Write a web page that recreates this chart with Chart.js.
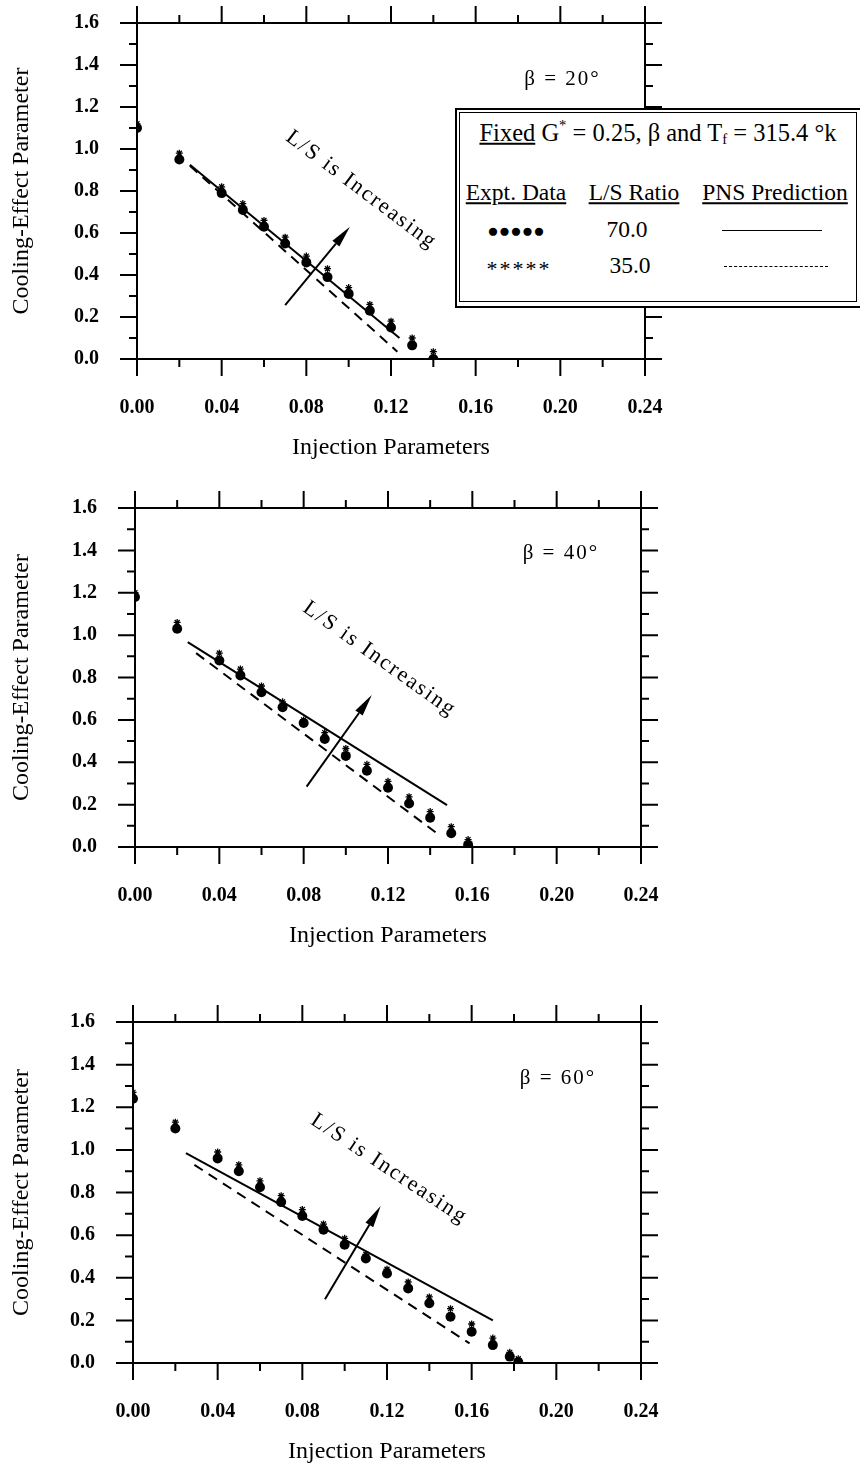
<!DOCTYPE html>
<html>
<head>
<meta charset="utf-8">
<script src="https://cdn.jsdelivr.net/npm/chart.js@4.4.1/dist/chart.umd.min.js"></script>
<style>
  body { margin: 0; background: #fff; width: 860px; height: 1467px; position: relative; overflow: hidden; font-family: "Liberation Serif", serif; color: #000; }
  canvas { position: absolute; left: 0; }
  #legendBox { position: absolute; left: 455px; top: 108px; width: 410px; height: 196px; border: 2px solid #000; background: #fff; }
  #legendBox .inner { position: absolute; left: 2px; top: 2px; width: 396px; height: 188px; border: 1.5px solid #000; }
  .t { position: absolute; transform: translate(-50%, -50%); white-space: nowrap; font-size: 23.5px; line-height: 1; }
  .t sup { font-size: 60%; vertical-align: 0.7em; line-height: 0; }
  .t sub { font-size: 60%; vertical-align: -0.2em; line-height: 0; }
  .solid { position: absolute; height: 0; border-top: 1.5px solid #000; }
  .dashed { position: absolute; height: 0; border-top: 1.5px dashed #000; }
</style>
</head>
<body>
<canvas id="p1"></canvas>
<canvas id="p2"></canvas>
<canvas id="p3"></canvas>

<div id="legendBox"><div class="inner"></div></div>
<div class="t" style="left:658px;top:133px;font-size:24.5px"><u>Fixed</u> G<sup>*</sup> = 0.25, β and T<sub>f</sub> = 315.4 °k</div>
<div class="t" style="left:516px;top:193px"><u>Expt. Data</u></div>
<div class="t" style="left:634px;top:193px"><u>L/S Ratio</u></div>
<div class="t" style="left:775px;top:193px"><u>PNS Prediction</u></div>
<div class="t" id="sym0" style="left:516px;top:230px;font-size:19px;letter-spacing:0px"></div>
<div class="t" id="ratio0" style="left:627px;top:230px"></div>
<div class="solid" style="left:722px;top:230px;width:100px"></div>
<div class="t" id="sym1" style="left:519px;top:269px;font-size:22px;letter-spacing:2px"></div>
<div class="t" id="ratio1" style="left:630px;top:266px"></div>
<div class="dashed" style="left:724px;top:266px;width:104px"></div>

<script>
// axis ticks
const xTickValues = [0, 0.04, 0.08, 0.12, 0.16, 0.20, 0.24];
const xTickLabels = ['0.00', '0.04', '0.08', '0.12', '0.16', '0.20', '0.24'];
const yTickValues = [0, 0.2, 0.4, 0.6, 0.8, 1.0, 1.2, 1.4, 1.6];
const yTickLabels = ['0.0', '0.2', '0.4', '0.6', '0.8', '1.0', '1.2', '1.4', '1.6'];

// legend
const lsRatios = ['70.0', '35.0'];
const exptSymbols = ['●●●●●', '*****'];

// beta = 20
const p1X = [0, 0.02, 0.04, 0.05, 0.06, 0.07, 0.08, 0.09, 0.10, 0.11, 0.12, 0.13, 0.14];
const p1Dots = [1.10, 0.95, 0.79, 0.71, 0.63, 0.55, 0.46, 0.39, 0.31, 0.23, 0.15, 0.065, 0.0];
const p1Stars = [1.12, 0.98, 0.82, 0.74, 0.66, 0.58, 0.49, 0.43, 0.34, 0.26, 0.18, 0.10, 0.035];
const p1SolidX = [0.025, 0.124];
const p1SolidY = [0.925, 0.10];
const p1DashX = [0.025, 0.123];
const p1DashY = [0.92, 0.035];

// beta = 40
const p2X = [0, 0.02, 0.04, 0.05, 0.06, 0.07, 0.08, 0.09, 0.10, 0.11, 0.12, 0.13, 0.14, 0.15, 0.158];
const p2Dots = [1.18, 1.03, 0.88, 0.81, 0.73, 0.66, 0.585, 0.51, 0.43, 0.36, 0.28, 0.205, 0.138, 0.065, 0.01];
const p2Stars = [1.20, 1.06, 0.915, 0.84, 0.76, 0.685, 0.60, 0.54, 0.465, 0.39, 0.31, 0.237, 0.167, 0.096, 0.035];
const p2SolidX = [0.025, 0.148];
const p2SolidY = [0.967, 0.198];
const p2DashX = [0.029, 0.143];
const p2DashY = [0.915, 0.066];

// beta = 60
const p3X = [0, 0.02, 0.04, 0.05, 0.06, 0.07, 0.08, 0.09, 0.10, 0.11, 0.12, 0.13, 0.14, 0.15, 0.16, 0.17, 0.178, 0.182];
const p3Dots = [1.24, 1.10, 0.96, 0.90, 0.825, 0.755, 0.69, 0.625, 0.555, 0.49, 0.42, 0.35, 0.28, 0.217, 0.147, 0.084, 0.03, 0.005];
const p3Stars = [1.27, 1.13, 0.99, 0.93, 0.855, 0.785, 0.72, 0.652, 0.585, 0.51, 0.44, 0.38, 0.31, 0.255, 0.183, 0.117, 0.05, 0.02];
const p3SolidX = [0.025, 0.17];
const p3SolidY = [0.985, 0.20];
const p3DashX = [0.029, 0.159];
const p3DashY = [0.93, 0.092];

const betaLabels = ['β = 20°', 'β = 40°', 'β = 60°'];
const trendLabel = 'L/S is Increasing';

document.getElementById('sym0').textContent = exptSymbols[0];
document.getElementById('sym1').textContent = exptSymbols[1];
document.getElementById('ratio0').textContent = lsRatios[0];
document.getElementById('ratio1').textContent = lsRatios[1];

const serif = '"Liberation Serif", "Times New Roman", serif';

function pts(xs, ys) {
    return xs.map((v, i) => ({ x: v, y: ys[i] }));
}

// box with outward ticks on all four sides, plus the notes
const framePlugin = {
    id: 'frame',
    beforeDatasetsDraw(chart) {
        const { ctx, chartArea: a, scales: { x, y } } = chart;
        ctx.save();
        ctx.strokeStyle = '#000';
        ctx.lineWidth = 2;
        ctx.strokeRect(a.left, a.top, a.right - a.left, a.bottom - a.top);
        ctx.beginPath();
        xTickValues.forEach((v, i) => {
            const px = x.getPixelForValue(v);
            ctx.moveTo(px, a.top); ctx.lineTo(px, a.top - 17);
            ctx.moveTo(px, a.bottom); ctx.lineTo(px, a.bottom + 17);
            if (i < xTickValues.length - 1) {
                const m = x.getPixelForValue((v + xTickValues[i + 1]) / 2);
                ctx.moveTo(m, a.top); ctx.lineTo(m, a.top - 8);
                ctx.moveTo(m, a.bottom); ctx.lineTo(m, a.bottom + 8);
            }
        });
        yTickValues.forEach((v, i) => {
            const py = y.getPixelForValue(v);
            ctx.moveTo(a.left, py); ctx.lineTo(a.left - 17, py);
            ctx.moveTo(a.right, py); ctx.lineTo(a.right + 17, py);
            if (i < yTickValues.length - 1) {
                const m = y.getPixelForValue((v + yTickValues[i + 1]) / 2);
                ctx.moveTo(a.left, m); ctx.lineTo(a.left - 8, m);
                ctx.moveTo(a.right, m); ctx.lineTo(a.right + 8, m);
            }
        });
        ctx.stroke();
        ctx.restore();
    },
    afterDatasetsDraw(chart, args, opts) {
        const { ctx, scales: { x, y } } = chart;
        ctx.save();
        ctx.fillStyle = '#000';
        ctx.strokeStyle = '#000';

        // beta label
        ctx.font = '21px ' + serif;
        ctx.textAlign = 'center';
        ctx.textBaseline = 'middle';
        ctx.letterSpacing = '2px';
        ctx.fillText(opts.beta, x.getPixelForValue(opts.betaAt[0]), y.getPixelForValue(opts.betaAt[1]));

        // rotated trend text
        ctx.save();
        ctx.translate(x.getPixelForValue(opts.textAt[0]), y.getPixelForValue(opts.textAt[1]));
        ctx.rotate(opts.textAngle * Math.PI / 180);
        ctx.font = '22px ' + serif;
        ctx.letterSpacing = '2px';
        ctx.fillText(trendLabel, 0, 0);
        ctx.restore();

        // arrow
        const x0 = x.getPixelForValue(opts.arrow[0]), y0 = y.getPixelForValue(opts.arrow[1]);
        const x1 = x.getPixelForValue(opts.arrow[2]), y1 = y.getPixelForValue(opts.arrow[3]);
        const ang = Math.atan2(y1 - y0, x1 - x0);
        const hl = 22, hw = 4.5;
        const bx = x1 - hl * Math.cos(ang), by = y1 - hl * Math.sin(ang);
        ctx.lineWidth = 2;
        ctx.beginPath();
        ctx.moveTo(x0, y0);
        ctx.lineTo(bx, by);
        ctx.stroke();
        ctx.beginPath();
        ctx.moveTo(x1, y1);
        ctx.lineTo(bx + hw * Math.sin(ang), by - hw * Math.cos(ang));
        ctx.lineTo(bx - hw * Math.sin(ang), by + hw * Math.cos(ang));
        ctx.closePath();
        ctx.fill();
        ctx.restore();
    }
};

function buildPanel(id, geo, s, notes) {
    const canvas = document.getElementById(id);
    const top = geo.top - 23;
    const H = geo.bottom + 111 - top;
    canvas.width = 860;
    canvas.height = H;
    canvas.style.top = top + 'px';

    new Chart(canvas, {
        type: 'scatter',
        data: {
            datasets: [
                {
                    label: 'Expt. Data, L/S 70.0',
                    data: pts(s.x, s.dots),
                    pointStyle: 'circle',
                    pointRadius: 5,
                    backgroundColor: '#000',
                    borderColor: '#000',
                    borderWidth: 0
                },
                {
                    label: 'Expt. Data, L/S 35.0',
                    data: pts(s.x, s.stars),
                    pointStyle: 'star',
                    pointRadius: 3.5,
                    borderColor: '#000',
                    borderWidth: 1.3
                },
                {
                    label: 'PNS Prediction, L/S 70.0',
                    data: pts(s.solidX, s.solidY),
                    showLine: true,
                    pointRadius: 0,
                    borderColor: '#000',
                    borderWidth: 2
                },
                {
                    label: 'PNS Prediction, L/S 35.0',
                    data: pts(s.dashX, s.dashY),
                    showLine: true,
                    pointRadius: 0,
                    borderColor: '#000',
                    borderWidth: 2,
                    borderDash: [10, 7]
                }
            ]
        },
        options: {
            responsive: false,
            animation: false,
            devicePixelRatio: 1,
            layout: { padding: { top: 23, left: 0, right: 860 - geo.right, bottom: 0 } },
            plugins: {
                legend: { display: false },
                tooltip: { enabled: false },
                frame: notes
            },
            scales: {
                x: {
                    type: 'linear',
                    min: 0,
                    max: 0.24,
                    afterFit: sc => { sc.height = 111; sc.paddingLeft = 0; sc.paddingRight = 0; },
                    afterBuildTicks: sc => { sc.ticks = xTickValues.map(v => ({ value: v })); },
                    grid: { display: false, drawTicks: false, tickLength: 0 },
                    border: { display: false },
                    ticks: {
                        padding: 37,
                        color: '#000',
                        maxRotation: 0,
                        autoSkip: false,
                        font: { family: serif, size: 20, weight: 'bold' },
                        callback: (v, i) => xTickLabels[i]
                    },
                    title: {
                        display: true,
                        text: 'Injection Parameters',
                        color: '#000',
                        font: { family: serif, size: 24 },
                        padding: { top: 0, bottom: 7.6 }
                    }
                },
                y: {
                    type: 'linear',
                    min: 0,
                    max: 1.6,
                    afterFit: sc => { sc.width = geo.left; sc.paddingTop = 0; sc.paddingBottom = 0; },
                    afterBuildTicks: sc => { sc.ticks = yTickValues.map(v => ({ value: v })); },
                    grid: { display: false, drawTicks: false, tickLength: 0 },
                    border: { display: false },
                    ticks: {
                        padding: 38,
                        color: '#000',
                        autoSkip: false,
                        font: { family: serif, size: 20, weight: 'bold' },
                        callback: (v, i) => yTickLabels[i]
                    },
                    title: {
                        display: true,
                        text: 'Cooling-Effect Parameter',
                        color: '#000',
                        font: { family: serif, size: 24 },
                        padding: { top: 7.6, bottom: 0 }
                    }
                }
            }
        },
        plugins: [framePlugin]
    });
}

buildPanel('p1', { left: 137, top: 23, right: 645, bottom: 359 },
    { x: p1X, dots: p1Dots, stars: p1Stars, solidX: p1SolidX, solidY: p1SolidY, dashX: p1DashX, dashY: p1DashY },
    { beta: betaLabels[0], betaAt: [0.201, 1.33], textAt: [0.106, 0.805], textAngle: 37, arrow: [0.070, 0.257, 0.1006, 0.63] });

buildPanel('p2', { left: 135, top: 508, right: 641, bottom: 847 },
    { x: p2X, dots: p2Dots, stars: p2Stars, solidX: p2SolidX, solidY: p2SolidY, dashX: p2DashX, dashY: p2DashY },
    { beta: betaLabels[1], betaAt: [0.202, 1.387], textAt: [0.116, 0.887], textAngle: 35.6, arrow: [0.0814, 0.285, 0.1123, 0.717] });

buildPanel('p3', { left: 133, top: 1022, right: 641, bottom: 1363 },
    { x: p3X, dots: p3Dots, stars: p3Stars, solidX: p3SolidX, solidY: p3SolidY, dashX: p3DashX, dashY: p3DashY },
    { beta: betaLabels[2], betaAt: [0.2008, 1.337], textAt: [0.121, 0.91], textAngle: 33.5, arrow: [0.0907, 0.299, 0.117, 0.737] });
</script>
</body>
</html>
